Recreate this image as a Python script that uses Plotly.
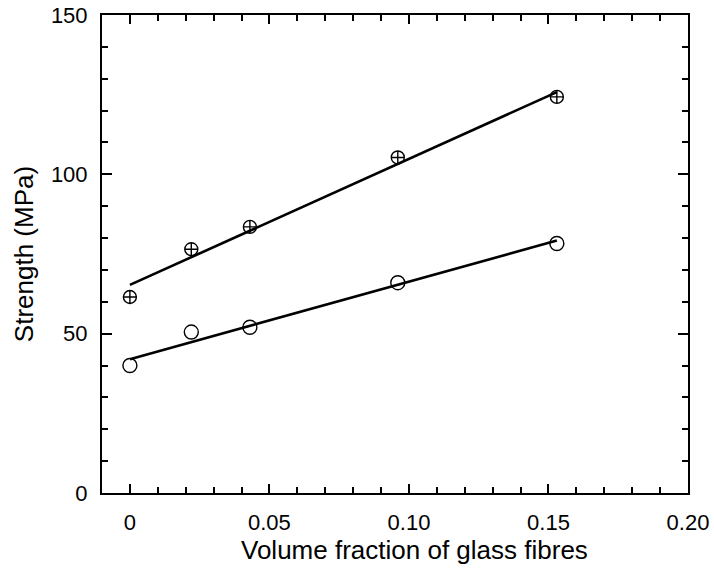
import plotly.graph_objects as go

# Data
vol_frac = [0.0, 0.022, 0.043, 0.096, 0.153]
strength_upper = [61.5, 76.5, 83.5, 105.3, 124.3]
strength_lower = [40.0, 50.5, 52.0, 66.0, 78.3]

fit_x = [0.0, 0.153]
fit_upper = [65.3, 125.8]
fit_lower = [42.0, 79.2]

x_tickvals = [0, 0.05, 0.10, 0.15, 0.20]
x_ticktext = ["0", "0.05", "0.10", "0.15", "0.20"]
y_tickvals = [0, 50, 100, 150]
y_ticktext = ["0", "50", "100", "150"]

FONT = "Liberation Sans, Arial, Helvetica, sans-serif"

fig = go.Figure()
fig.add_trace(go.Scatter(x=fit_x, y=fit_upper, mode="lines",
                         line=dict(color="black", width=2.6), showlegend=False))
fig.add_trace(go.Scatter(x=fit_x, y=fit_lower, mode="lines",
                         line=dict(color="black", width=2.6), showlegend=False))
fig.add_trace(go.Scatter(x=vol_frac, y=strength_upper, mode="markers",
                         marker=dict(symbol="circle-cross-open", size=13, color="black",
                                     line=dict(width=1.4, color="black")),
                         showlegend=False))
fig.add_trace(go.Scatter(x=vol_frac, y=strength_lower, mode="markers",
                         marker=dict(symbol="circle-open", size=14, color="black",
                                     line=dict(width=1.4, color="black")),
                         showlegend=False))

axis_common = dict(showline=True, linecolor="black", linewidth=2, mirror="allticks",
                   ticks="inside", tickcolor="black", tickwidth=2, showgrid=False,
                   zeroline=False, automargin=False,
                   tickfont=dict(family=FONT, size=22, color="black"))

fig.update_xaxes(range=[-0.01, 0.20], tickvals=x_tickvals, ticktext=x_ticktext,
                 ticklen=9, ticklabelstandoff=9,
                 minor=dict(dtick=0.01, tick0=0, ticks="inside", ticklen=6,
                            tickcolor="black", tickwidth=2, showgrid=False),
                 **axis_common)
fig.update_yaxes(range=[0, 150], tickvals=y_tickvals, ticktext=y_ticktext,
                 ticklen=10, ticklabelstandoff=8,
                 minor=dict(dtick=10, tick0=0, ticks="inside", ticklen=6,
                            tickcolor="black", tickwidth=2, showgrid=False),
                 title=dict(text="Strength (MPa)",
                            font=dict(family=FONT, size=26, color="black"), standoff=10),
                 **axis_common)

fig.add_annotation(text="Volume fraction of glass fibres", xref="paper", yref="paper",
                   x=0.533, y=-0.119, xanchor="center", yanchor="middle", showarrow=False,
                   font=dict(family=FONT, size=26, color="black"))

fig.update_layout(width=714, height=569, plot_bgcolor="white", paper_bgcolor="white",
                  margin=dict(l=102, r=26, t=15, b=76), showlegend=False)

fig.write_html("out.html")
